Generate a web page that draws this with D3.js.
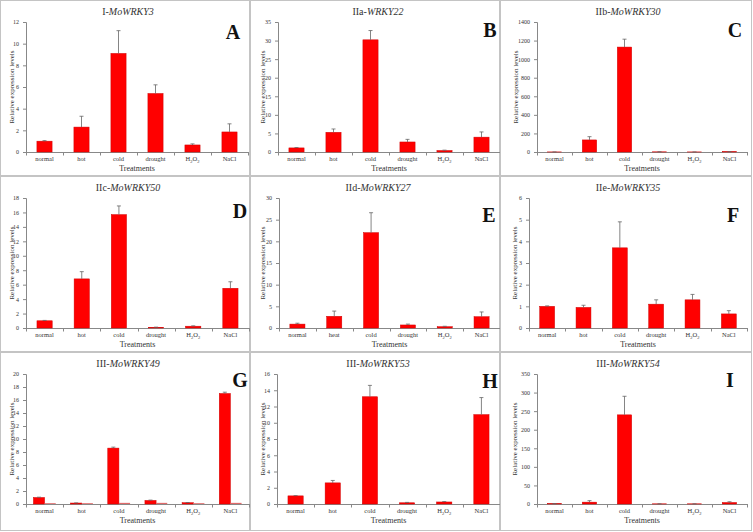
<!DOCTYPE html>
<meta charset="utf-8">
<title>WRKY expression</title>
<style>
body { margin: 0; background: #fff; }
text { font-family: "Liberation Serif", "Times New Roman", serif; }
</style>
<body>
<script src="https://d3js.org/d3.v7.min.js"></script>
<script>
var categories = ["normal", "hot", "cold", "drought", "H2O2", "NaCl"];
var categoriesE = ["normal", "heat", "cold", "drought", "H2O2", "NaCl"];

var valA = [1.0, 2.3, 9.1, 5.4, 0.65, 1.85],   errA = [0.05, 1.0, 2.1, 0.8, 0.1, 0.75];
var valB = [1.1, 5.3, 30.2, 2.7, 0.4, 4.0],    errB = [0.1, 0.9, 2.5, 0.7, 0.1, 1.4];
var valC = [1, 130, 1130, 2, 1, 3],            errC = [0, 35, 85, 1, 0, 1];
var valD = [1.0, 6.8, 15.7, 0.1, 0.25, 5.5],   errD = [0.05, 1.0, 1.2, 0.02, 0.05, 0.9];
var valE = [0.9, 2.7, 22.0, 0.7, 0.3, 2.6],    errE = [0.2, 1.2, 4.6, 0.2, 0.1, 1.1];
var valF = [1.0, 0.95, 3.7, 1.1, 1.3, 0.65],   errF = [0.02, 0.1, 1.2, 0.2, 0.25, 0.15];
var valG = [1.0, 0.15, 8.6, 0.55, 0.2, 17.0],  errG = [0.05, 0.02, 0.15, 0.05, 0.03, 0.2];
var valG2 = [0.05, 0.05, 0.1, 0.1, 0.05, 0.1];
var valH = [1.0, 2.6, 13.2, 0.15, 0.25, 11.0], errH = [0.03, 0.3, 1.4, 0.05, 0.05, 2.1];
var valI = [1, 5, 240, 0.5, 0.5, 4],           errI = [0.3, 4, 50, 0.2, 0.2, 2];

var panels = [
  {pre: "I-",   gene: "MoWRKY3",  letter: "A", cats: categories,  vals: valA, errs: errA, max: 12,   step: 2},
  {pre: "IIa-", gene: "WRKY22",   letter: "B", cats: categories,  vals: valB, errs: errB, max: 35,   step: 5},
  {pre: "IIb-", gene: "MoWRKY30", letter: "C", cats: categories,  vals: valC, errs: errC, max: 1400, step: 200},
  {pre: "IIc-", gene: "MoWRKY50", letter: "D", cats: categories,  vals: valD, errs: errD, max: 18,   step: 2},
  {pre: "IId-", gene: "MoWRKY27", letter: "E", cats: categoriesE, vals: valE, errs: errE, max: 30,   step: 5},
  {pre: "IIe-", gene: "MoWRKY35", letter: "F", cats: categories,  vals: valF, errs: errF, max: 6,    step: 1},
  {pre: "III-", gene: "MoWRKY49", letter: "G", cats: categories,  vals: valG, errs: errG, max: 20,   step: 2, vals2: valG2},
  {pre: "III-", gene: "MoWRKY53", letter: "H", cats: categories,  vals: valH, errs: errH, max: 16,   step: 2},
  {pre: "III-", gene: "MoWRKY54", letter: "I", cats: categories,  vals: valI, errs: errI, max: 350,  step: 50}
];

// panel geometry (left axis x, right end, y-label x, letter x / baseline)
var layout = [
  {ax: 26, ar: 248, yl: 12, lx: 233, ly: 39},
  {ax: 28, ar: 250, yl: 13, lx: 240, ly: 37},
  {ax: 37, ar: 247, yl: 16, lx: 235, ly: 37},
  {ax: 26, ar: 249, yl: 12, lx: 240, ly: 42},
  {ax: 29, ar: 250, yl: 13, lx: 239, ly: 46},
  {ax: 29, ar: 247, yl: 15, lx: 233, ly: 46},
  {ax: 26, ar: 249, yl: 12, lx: 240, ly: 35},
  {ax: 27, ar: 250, yl: 13, lx: 240, ly: 36},
  {ax: 37, ar: 247, yl: 15, lx: 230, ly: 35}
];
var colX = [0, 250, 500, 752],
    rowY = [0, 176, 352, 531];

var svg = d3.select("body").append("svg")
    .attr("width", 753)
    .attr("height", 532);

svg.append("rect").attr("width", 753).attr("height", 532).attr("fill", "#fff");

panels.forEach(function(p, i) {
  var c = i % 3, r = Math.floor(i / 3), L = layout[i];
  var x0 = colX[c], y0 = rowY[r];
  var g = svg.append("g").attr("transform", "translate(" + x0 + "," + y0 + ")");

  g.append("rect")
      .attr("x", 0.5).attr("y", 0.5)
      .attr("width", colX[c + 1] - x0 - 1)
      .attr("height", rowY[r + 1] - y0 - 1)
      .attr("fill", "none")
      .attr("stroke", "#c4c4c4");

  var x = d3.scaleBand().domain(d3.range(6)).range([L.ax, L.ar]);
  var y = d3.scaleLinear().domain([0, p.max]).range([152, 22]);
  var bw = x.bandwidth();

  // y axis
  var ya = g.append("g")
      .attr("transform", "translate(" + L.ax + ",0)")
      .call(d3.axisLeft(y)
        .tickValues(d3.range(0, p.max + 0.001, p.step))
        .tickFormat(d3.format("d"))
        .tickSize(3).tickPadding(4));
  ya.select(".domain").attr("stroke", "#888");
  ya.selectAll(".tick line").attr("stroke", "#888");
  ya.selectAll("text").attr("font-size", 6).attr("fill", "#333");

  // x axis with ticks between categories
  g.append("line")
      .attr("x1", L.ax).attr("x2", L.ar).attr("y1", 152.5).attr("y2", 152.5)
      .attr("stroke", "#888");
  g.selectAll(".xt").data(d3.range(7)).enter().append("line")
      .attr("x1", function(d) { return Math.round(L.ax + d * bw) + 0.5; })
      .attr("x2", function(d) { return Math.round(L.ax + d * bw) + 0.5; })
      .attr("y1", 152).attr("y2", 155.5)
      .attr("stroke", "#888");

  // bars
  var barW = p.vals2 ? bw * 0.3 : bw * 0.41;
  var off = p.vals2 ? -barW : -barW / 2;
  g.selectAll(".bar").data(p.vals).enter().append("rect")
      .attr("x", function(d, j) { return x(j) + bw / 2 + off; })
      .attr("y", function(d) { return y(d); })
      .attr("width", barW)
      .attr("height", function(d) { return 152 - y(d); })
      .attr("fill", "#ff0000")
      .attr("stroke", "#d00000")
      .attr("stroke-width", 0.5);

  if (p.vals2) {
    g.selectAll(".bar2").data(p.vals2).enter().append("rect")
        .attr("x", function(d, j) { return x(j) + bw / 2; })
        .attr("y", function(d) { return y(d) - 0.5; })
        .attr("width", barW)
        .attr("height", function(d) { return 152 - y(d) + 0.5; })
        .attr("fill", "#e06a6a");
  }

  // error bars
  var eg = g.selectAll(".err").data(p.vals).enter().append("g")
      .attr("stroke", "#666").attr("stroke-width", 0.8);
  eg.append("line")
      .attr("x1", function(d, j) { return x(j) + bw / 2 + off + barW / 2; })
      .attr("x2", function(d, j) { return x(j) + bw / 2 + off + barW / 2; })
      .attr("y1", function(d) { return y(d); })
      .attr("y2", function(d, j) { return y(d + p.errs[j]); });
  eg.append("line")
      .attr("x1", function(d, j) { return x(j) + bw / 2 + off + barW / 2 - 2; })
      .attr("x2", function(d, j) { return x(j) + bw / 2 + off + barW / 2 + 2; })
      .attr("y1", function(d, j) { return y(d + p.errs[j]); })
      .attr("y2", function(d, j) { return y(d + p.errs[j]); });

  // category labels
  var cl = g.selectAll(".cat").data(p.cats).enter().append("text")
      .attr("x", function(d, j) { return x(j) + bw / 2; })
      .attr("y", 161)
      .attr("text-anchor", "middle")
      .attr("font-size", 6.5)
      .attr("fill", "#333");
  cl.each(function(d) {
    var t = d3.select(this);
    if (d === "H2O2") {
      t.append("tspan").text("H");
      t.append("tspan").attr("font-size", 4.5).attr("dy", 1.5).text("2");
      t.append("tspan").attr("dy", -1.5).text("O");
      t.append("tspan").attr("font-size", 4.5).attr("dy", 1.5).text("2");
    } else {
      t.text(d);
    }
  });

  g.append("text")
      .attr("x", (L.ax + L.ar) / 2)
      .attr("y", 171)
      .attr("text-anchor", "middle")
      .attr("font-size", 8)
      .attr("fill", "#333")
      .text("Treatments");

  g.append("text")
      .attr("transform", "translate(" + (L.yl + 2) + ",87)rotate(-90)")
      .attr("text-anchor", "middle")
      .attr("font-size", 7)
      .attr("fill", "#333")
      .text("Relative  expression levels");

  var tt = g.append("text")
      .attr("x", 128)
      .attr("y", 15)
      .attr("text-anchor", "middle")
      .attr("font-size", 10)
      .attr("fill", "#333");
  tt.append("tspan").text(p.pre);
  tt.append("tspan").attr("font-style", "italic").text(p.gene);

  g.append("text")
      .attr("x", L.lx)
      .attr("y", L.ly)
      .attr("text-anchor", "middle")
      .attr("font-size", 20)
      .attr("font-weight", "bold")
      .attr("fill", "#111")
      .text(p.letter);
});
</script>
